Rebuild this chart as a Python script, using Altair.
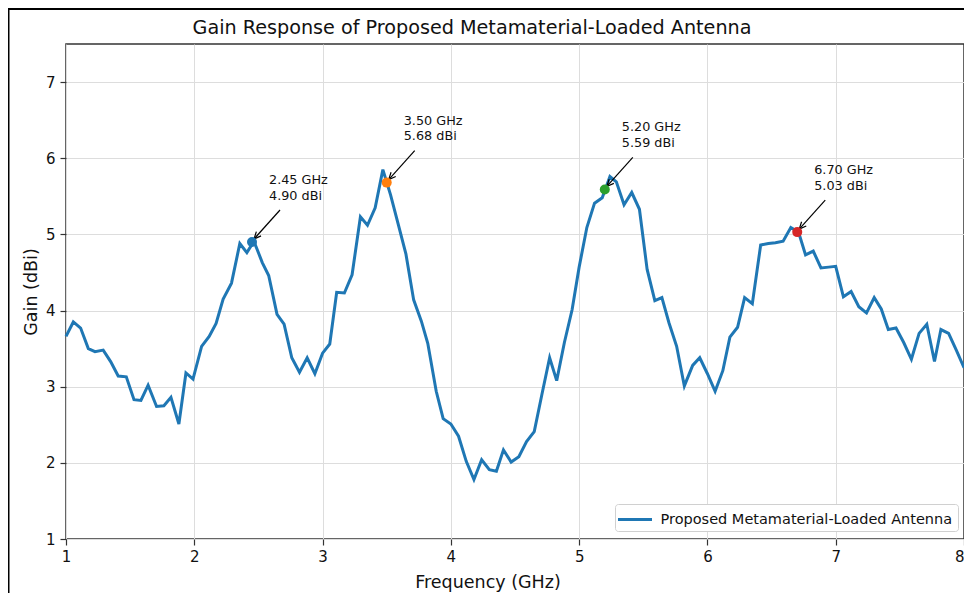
import altair as alt
import pandas as pd

freq = [1.000, 1.057, 1.114, 1.174, 1.226, 1.290, 1.348, 1.407, 1.470, 1.530,
        1.584, 1.640, 1.706, 1.763, 1.818, 1.880, 1.935, 1.990, 2.057, 2.116,
        2.170, 2.225, 2.290, 2.355, 2.410, 2.465, 2.530, 2.580, 2.645, 2.700,
        2.760, 2.820, 2.880, 2.940, 3.000, 3.056, 3.110, 3.170, 3.230, 3.295,
        3.350, 3.410, 3.470, 3.530, 3.590, 3.650, 3.710, 3.770, 3.820, 3.886,
        3.940, 4.000, 4.060, 4.120, 4.180, 4.240, 4.300, 4.355, 4.410, 4.470,
        4.530, 4.590, 4.650, 4.710, 4.770, 4.825, 4.885, 4.945, 5.000, 5.060,
        5.120, 5.180, 5.240, 5.290, 5.350, 5.410, 5.470, 5.530, 5.590, 5.645,
        5.700, 5.760, 5.820, 5.885, 5.940, 6.000, 6.060, 6.120, 6.175, 6.235,
        6.290, 6.350, 6.415, 6.475, 6.530, 6.590, 6.650, 6.710, 6.765, 6.825,
        6.885, 6.945, 7.000, 7.060, 7.120, 7.180, 7.240, 7.300, 7.355, 7.410,
        7.470, 7.530, 7.590, 7.650, 7.710, 7.770, 7.820, 7.880, 7.940, 8.000]

gain = [3.66, 3.85, 3.77, 3.50, 3.46, 3.48, 3.33, 3.14, 3.13, 2.83,
        2.82, 3.02, 2.74, 2.75, 2.86, 2.51, 3.18, 3.10, 3.53, 3.66,
        3.83, 4.15, 4.36, 4.88, 4.76, 4.91, 4.63, 4.46, 3.95, 3.82,
        3.38, 3.19, 3.38, 3.17, 3.44, 3.56, 4.24, 4.23, 4.47, 5.23,
        5.12, 5.35, 5.85, 5.52, 5.13, 4.74, 4.14, 3.86, 3.57, 2.94,
        2.58, 2.51, 2.35, 2.02, 1.78, 2.04, 1.91, 1.89, 2.17, 2.01,
        2.08, 2.28, 2.41, 2.90, 3.38, 3.08, 3.58, 4.01, 4.57, 5.09,
        5.41, 5.48, 5.76, 5.69, 5.39, 5.55, 5.33, 4.54, 4.13, 4.17,
        3.84, 3.53, 3.01, 3.28, 3.38, 3.17, 2.94, 3.21, 3.65, 3.78,
        4.17, 4.09, 4.86, 4.88, 4.89, 4.91, 5.09, 5.03, 4.73, 4.78,
        4.56, 4.57, 4.58, 4.18, 4.25, 4.05, 3.97, 4.17, 4.02, 3.75,
        3.77, 3.58, 3.36, 3.70, 3.82, 3.33, 3.75, 3.70, 3.48, 3.25]

peak_freq = [2.45, 3.50, 5.20, 6.70]
peak_gain = [4.90, 5.68, 5.59, 5.03]
peak_colors = ["#1f77b4", "#ff7f0e", "#2ca02c", "#d62728"]
series_name = "Proposed Metamaterial-Loaded Antenna"
title_text = "Gain Response of Proposed Metamaterial-Loaded Antenna"
x_ticks = [1, 2, 3, 4, 5, 6, 7, 8]
y_ticks = [1, 2, 3, 4, 5, 6, 7]

FONT = "DejaVu Sans"

df = pd.DataFrame({"freq": freq, "gain": gain, "series": series_name})
peaks = pd.DataFrame({
    "freq": peak_freq,
    "gain": peak_gain,
    "color": peak_colors,
    "l1": [f"{f:.2f} GHz" for f in peak_freq],
    "l2": [f"{g:.2f} dBi" for g in peak_gain],
})
one = pd.DataFrame({"a": [0]})

xs = alt.Scale(domain=[1, 8], nice=False, zero=False)
ys = alt.Scale(domain=[1, 7.5], nice=False, zero=False)

x_axis = alt.Axis(values=x_ticks, format="d", title="Frequency (GHz)",
                  titleX=421.5, titleY=48, titleBaseline="alphabetic",
                  titleFontSize=17.5, titleFontWeight="normal",
                  labelPadding=4, labelFlush=False,
                  labelAlign=alt.expr("datum.value >= 8 ? 'right' : 'center'"))
y_axis = alt.Axis(values=y_ticks, format="d", title="Gain (dBi)",
                  titleX=-29.5, titleY=247.5, titleAngle=-90,
                  titleBaseline="alphabetic", titleAlign="center",
                  titleFontSize=17.5, titleFontWeight="normal",
                  labelPadding=5, labelFlush=False)

line = alt.Chart(df).mark_line(strokeWidth=3).encode(
    x=alt.X("freq:Q", scale=xs, axis=x_axis),
    y=alt.Y("gain:Q", scale=ys, axis=y_axis),
    color=alt.Color("series:N", scale=alt.Scale(range=["#1f77b4"]),
                    legend=alt.Legend(title=None, orient="none",
                                      legendX=549, legendY=460,
                                      symbolType="M -1.889 0 L 1.889 0",
                                      symbolSize=324,
                                      symbolStrokeWidth=3, labelFontSize=14.5,
                                      symbolOffset=4.5, labelOffset=15,
                                      labelLimit=500,
                                      padding=5, strokeColor="#d0d0d0",
                                      fillColor="white", cornerRadius=3,
                                      labelFont=FONT, labelColor="#111")),
)

markers = alt.Chart(peaks).mark_circle(size=100, opacity=1).encode(
    x="freq:Q", y="gain:Q",
    fill=alt.Fill("color:N", scale=None),
)

shaft = alt.Chart(peaks).mark_rule(color="black", strokeWidth=1.2,
                                   xOffset=28, yOffset=-32,
                                   x2Offset=2, y2Offset=-3).encode(
    x="freq:Q", y="gain:Q", x2="freq:Q", y2="gain:Q",
)

head = alt.Chart(peaks).mark_point(shape="M -0.45 1 L 0 0 L 0.45 1",
                                   size=196, angle=222, filled=False,
                                   stroke="black", strokeWidth=1.2, opacity=1,
                                   xOffset=2, yOffset=-3).encode(
    x="freq:Q", y="gain:Q",
)

lab1 = alt.Chart(peaks).mark_text(align="left", baseline="alphabetic",
                                  dx=17, dy=-58, fontSize=12.8, font=FONT,
                                  color="#111").encode(
    x="freq:Q", y="gain:Q", text="l1:N",
)
lab2 = alt.Chart(peaks).mark_text(align="left", baseline="alphabetic",
                                  dx=17, dy=-42.5, fontSize=12.8, font=FONT,
                                  color="#111").encode(
    x="freq:Q", y="gain:Q", text="l2:N",
)

title = alt.Chart(one).mark_text(align="center", baseline="alphabetic",
                                 fontSize=19.2, font=FONT, color="#111").encode(
    x=alt.value(406), y=alt.value(-10.5), text=alt.value(title_text),
)

frame_left = alt.Chart(one).mark_rule(color="black", strokeWidth=2).encode(
    x=alt.value(-57.5), y=alt.value(-36), y2=alt.value(620),
)
frame_top = alt.Chart(one).mark_rule(color="black", strokeWidth=2).encode(
    x=alt.value(-58), x2=alt.value(960), y=alt.value(-35),
)

chart = alt.layer(line, shaft, head, markers, lab1, lab2, title,
                  frame_left, frame_top).properties(
    width=898, height=495,
    padding={"left": 58, "top": 36, "right": 0, "bottom": 54},
    autosize=alt.AutoSizeParams(type="none"),
    background="white",
).configure_view(
    stroke="#333333", strokeWidth=1.5,
).configure_axis(
    grid=True, gridColor="#dddddd", gridWidth=1,
    domain=False, tickColor="#333333", tickSize=6, tickWidth=1.2,
    labelFont=FONT, labelFontSize=15, labelColor="#111",
    titleFont=FONT, titleColor="#111",
)

chart.save("out.html", embed_options={"renderer": "svg", "actions": False})
